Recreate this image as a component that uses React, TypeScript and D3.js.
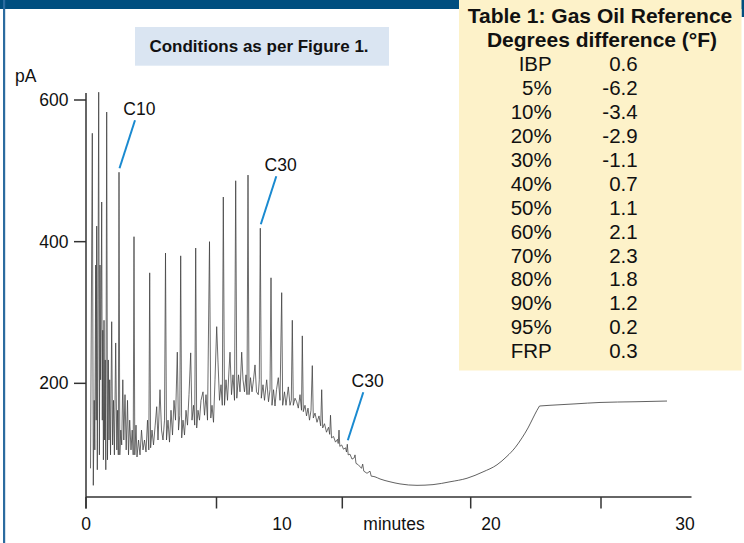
import React from 'react';
import * as d3 from 'd3';

// Chromatogram trace vertices: [minutes, pA]
const peakTrace: [number, number][] = [
  [0.225, 80], [0.315, 553], [0.365, 56], [0.41, 176], [0.44, 106], [0.485, 367], [0.51, 148],
  [0.535, 422], [0.565, 78], [0.6, 318], [0.635, 611], [0.67, 99], [0.7, 367], [0.73, 205],
  [0.76, 318], [0.785, 456], [0.815, 148], [0.84, 275], [0.87, 92], [0.9, 289], [0.93, 120],
  [0.96, 233], [0.99, 78], [1.035, 583], [1.075, 92], [1.115, 233], [1.15, 120], [1.185, 205],
  [1.225, 99], [1.285, 287], [1.33, 113], [1.375, 176], [1.42, 99], [1.485, 257], [1.54, 106],
  [1.58, 162], [1.615, 99], [1.65, 498], [1.69, 99], [1.74, 134], [1.785, 113], [1.84, 205],
  [1.89, 120], [1.95, 184], [2.01, 106], [2.075, 176], [2.125, 99], [2.185, 148], [2.25, 106],
  [2.31, 134], [2.36, 99], [2.4, 407], [2.44, 99], [2.5, 141], [2.55, 96], [2.625, 120],
  [2.7, 99], [2.775, 134], [2.85, 106], [2.925, 120], [3.0, 103], [3.075, 148], [3.14, 106],
  [3.185, 356], [3.23, 109], [3.3, 134], [3.375, 113], [3.46, 141], [3.535, 167], [3.6, 120],
  [3.7, 191], [3.775, 134], [3.85, 120], [3.925, 148], [3.975, 384], [4.025, 120], [4.1, 148],
  [4.175, 117], [4.25, 162], [4.325, 127], [4.4, 176], [4.475, 148], [4.565, 244], [4.625, 134],
  [4.69, 155], [4.735, 380], [4.785, 123], [4.85, 148], [4.925, 127], [5.0, 162], [5.075, 141],
  [5.15, 184], [5.235, 243], [5.3, 148], [5.375, 169], [5.435, 141], [5.485, 391], [5.535, 137],
  [5.6, 162], [5.675, 148], [5.75, 176], [5.85, 188], [5.925, 155], [6.0, 184], [6.075, 148],
  [6.175, 400], [6.24, 151], [6.3, 169], [6.375, 145], [6.45, 205], [6.535, 280], [6.6, 230],
  [6.675, 176], [6.75, 198], [6.815, 169], [6.865, 463], [6.925, 169], [7.0, 205], [7.075, 176],
  [7.15, 219], [7.2, 244], [7.275, 184], [7.35, 212], [7.425, 176], [7.485, 486], [7.54, 179],
  [7.625, 212], [7.7, 188], [7.785, 244], [7.85, 205], [7.925, 188], [8.0, 212], [8.05, 184],
  [8.1, 494], [8.15, 184], [8.225, 208], [8.3, 188], [8.375, 205], [8.45, 226], [8.525, 188],
  [8.615, 184], [8.665, 205], [8.715, 419], [8.765, 179], [8.85, 198], [8.925, 176], [9.035, 205],
  [9.125, 174], [9.2, 191], [9.25, 349], [9.3, 169], [9.375, 191], [9.45, 168], [9.525, 191],
  [9.615, 208], [9.7, 176], [9.785, 328], [9.835, 169], [9.925, 188], [10.0, 169], [10.115, 195],
  [10.2, 169], [10.265, 176], [10.315, 289], [10.365, 169], [10.45, 179], [10.535, 174],
  [10.615, 165], [10.7, 184], [10.775, 162], [10.815, 267], [10.865, 160], [10.95, 169],
  [11.025, 154], [11.1, 165], [11.175, 148], [11.25, 162], [11.315, 225], [11.365, 151],
  [11.45, 158], [11.55, 145], [11.65, 154], [11.735, 140], [11.785, 191], [11.835, 137],
  [11.925, 143], [12.025, 131], [12.125, 138], [12.185, 128], [12.225, 155], [12.275, 123],
  [12.375, 125], [12.475, 117], [12.575, 121], [12.61, 115], [12.65, 134], [12.69, 111],
  [12.785, 113], [12.875, 107], [12.975, 109], [13.025, 103], [13.065, 114], [13.11, 99],
  [13.2, 100], [13.3, 93], [13.415, 95], [13.45, 99], [13.5, 87], [13.615, 85], [13.775, 80],
  [13.835, 86], [13.89, 76], [14.05, 73], [14.2, 76], [14.26, 69],
];

// Smooth baseline rise after the last peaks: [minutes, pA]
const tailTrace: [number, number][] = [
  [14.26, 69], [14.45, 68], [14.7, 65], [15.2, 61], [15.7, 58], [16.55, 56], [17.35, 57],
  [18.2, 61], [19.05, 66], [19.85, 75], [20.55, 85], [21.05, 97], [21.45, 109], [21.8, 123],
  [22.1, 137], [22.35, 151], [22.55, 162], [22.675, 168],
];
const plateauTrace: [number, number][] = [
  [22.675, 168], [23.2, 169], [24.45, 171], [25.7, 173], [27.45, 174], [29.05, 175],
];

const xTickMinutes = [0, 6.525, 12.815, 19.235, 25.75];
const xLabelText = ['0', '10', '20', '30'];
const xLabelMinutes = [0, 9.8, 20.25, 29.95];
const yTicks = [200, 400, 600];

const annotations = [
  { label: 'C10', t: 1.65, v: 498 },
  { label: 'C30', t: 8.715, v: 419 },
  { label: 'C30', t: 13.065, v: 114 },
];

const tableTitle = ['Table 1: Gas Oil Reference', 'Degrees difference (°F)'];
const tableLabels = ['IBP', '5%', '10%', '20%', '30%', '40%', '50%', '60%', '70%', '80%', '90%', '95%', 'FRP'];
const tableValues = ['0.6', '-6.2', '-3.4', '-2.9', '-1.1', '0.7', '1.1', '2.1', '2.3', '1.8', '1.2', '0.2', '0.3'];

const FONT = '"Liberation Sans", Arial, Helvetica, sans-serif';

export default function App() {
  const W = 744;
  const H = 543;
  const x = d3.scaleLinear().domain([0, 30]).range([86, 686]);
  const y = d3.scaleLinear().domain([0, 600]).range([525, 100]);
  const axisTop = 93;
  const axisBottom = 497;
  const xAxisEnd = 691.5;

  const lineLin = d3.line<[number, number]>().x((d) => x(d[0])).y((d) => y(d[1]));
  const lineSmooth = d3
    .line<[number, number]>()
    .x((d) => x(d[0]))
    .y((d) => y(d[1]))
    .curve(d3.curveMonotoneX);

  const rowY = d3
    .scaleLinear()
    .domain([0, tableLabels.length - 1])
    .range([71, 358.3]);

  const axisColor = '#333';
  const blue = '#1a8ad0';

  return (
    <svg
      width={W}
      height={H}
      viewBox={`0 0 ${W} ${H}`}
      style={{ position: 'absolute', left: 0, top: 0, display: 'block', background: '#fff' }}
      fontFamily={FONT}
    >
      <rect x={0} y={0} width={W} height={H} fill="#fff" />
      {/* frame */}
      <rect x={0} y={0} width={W} height={9} fill="#004e7f" />
      <rect x={3} y={0} width={2.2} height={H} fill="#2b6b9f" />
      <rect x={741.5} y={0} width={2.5} height={17} fill="#004e7f" />

      {/* conditions box */}
      <rect x={135} y={27} width={254} height={38.7} fill="#dae5f2" />
      <text x={259} y={52.3} fontSize={17} fontWeight="bold" textAnchor="middle" fill="#111">
        Conditions as per Figure 1.
      </text>

      {/* table */}
      <rect x={459} y={0} width={282.5} height={370.5} fill="#fdf2c9" />
      <text x={600} y={23.3} fontSize={21} fontWeight="bold" textAnchor="middle" fill="#111">
        {tableTitle[0]}
      </text>
      <text x={602} y={46.7} fontSize={21} fontWeight="bold" textAnchor="middle" fill="#111">
        {tableTitle[1]}
      </text>
      {tableLabels.map((lab, i) => (
        <g key={i}>
          <text x={551.7} y={rowY(i)} fontSize={20.5} textAnchor="end" fill="#111">
            {lab}
          </text>
          <text x={637.7} y={rowY(i)} fontSize={20.5} textAnchor="end" fill="#111">
            {tableValues[i]}
          </text>
        </g>
      ))}

      {/* axes */}
      <text x={15} y={81.7} fontSize={17.5} fill="#111">
        pA
      </text>
      <line x1={86} x2={86} y1={axisTop} y2={axisBottom + 11.5} stroke={axisColor} strokeWidth={1.5} />
      <line x1={86} x2={xAxisEnd} y1={axisBottom} y2={axisBottom} stroke={axisColor} strokeWidth={1.5} />
      {yTicks.map((v) => (
        <g key={v}>
          <line x1={74} x2={86} y1={y(v)} y2={y(v)} stroke={axisColor} strokeWidth={1.5} />
          <text x={68.5} y={y(v)} dy="0.35em" fontSize={17.5} textAnchor="end" fill="#111">
            {v}
          </text>
        </g>
      ))}
      {xTickMinutes.map((t, i) => (
        <line key={i} x1={x(t)} x2={x(t)} y1={axisBottom} y2={axisBottom + 11.5} stroke={axisColor} strokeWidth={1.5} />
      ))}
      {xLabelText.map((lab, i) => (
        <text key={i} x={x(xLabelMinutes[i])} y={530} fontSize={17.5} textAnchor="middle" fill="#111">
          {lab}
        </text>
      ))}
      <text x={x(15.4)} y={530} fontSize={17.5} textAnchor="middle" fill="#111">
        minutes
      </text>

      {/* trace */}
      <path d={lineLin(peakTrace) || ''} fill="none" stroke="#3c3c3c" strokeWidth={0.75} strokeLinejoin="round" />
      <path d={lineSmooth(tailTrace) || ''} fill="none" stroke="#444" strokeWidth={0.85} />
      <path d={lineSmooth(plateauTrace) || ''} fill="none" stroke="#444" strokeWidth={0.85} />

      {/* annotations */}
      {annotations.map((a, i) => {
        const ex = x(a.t) + 0.5;
        const ey = y(a.v) - 4;
        const sx = ex + 15.5;
        const sy = ey - 48;
        return (
          <g key={i}>
            <line x1={sx} y1={sy} x2={ex} y2={ey} stroke={blue} strokeWidth={2} />
            <text x={sx - 11.7} y={sy - 5.5} fontSize={17.5} fill="#111">
              {a.label}
            </text>
          </g>
        );
      })}
    </svg>
  );
}
